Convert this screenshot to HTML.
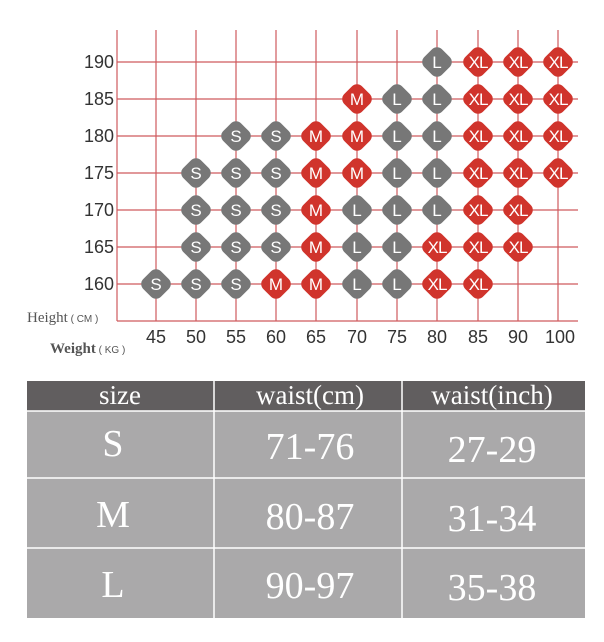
<!DOCTYPE html>
<html><head><meta charset="utf-8"><style>
html,body{margin:0;padding:0;background:#fff;width:604px;height:642px;overflow:hidden}
svg{display:block}
</style></head><body>
<svg width="604" height="642" viewBox="0 0 604 642" xmlns="http://www.w3.org/2000/svg">
<defs>
<rect id="dg" x="-12.5" y="-12.5" width="25" height="25" rx="7" fill="#777" transform="rotate(45)"/>
<rect id="dr" x="-12.5" y="-12.5" width="25" height="25" rx="7" fill="#d0342c" transform="rotate(45)"/>
</defs>
<g stroke="#cf5a5e" stroke-width="1.2">
<line x1="117" y1="30" x2="117" y2="321"/>
<line x1="117" y1="321" x2="578" y2="321"/>
<line x1="117" y1="62" x2="578" y2="62"/>
<line x1="117" y1="99" x2="578" y2="99"/>
<line x1="117" y1="136" x2="578" y2="136"/>
<line x1="117" y1="173" x2="578" y2="173"/>
<line x1="117" y1="210" x2="578" y2="210"/>
<line x1="117" y1="247" x2="578" y2="247"/>
<line x1="117" y1="284" x2="578" y2="284"/>
<line x1="156" y1="30" x2="156" y2="321"/>
<line x1="196" y1="30" x2="196" y2="321"/>
<line x1="236" y1="30" x2="236" y2="321"/>
<line x1="276" y1="30" x2="276" y2="321"/>
<line x1="316" y1="30" x2="316" y2="321"/>
<line x1="357" y1="30" x2="357" y2="321"/>
<line x1="397" y1="30" x2="397" y2="321"/>
<line x1="437" y1="30" x2="437" y2="321"/>
<line x1="478" y1="30" x2="478" y2="321"/>
<line x1="518" y1="30" x2="518" y2="321"/>
<line x1="558" y1="30" x2="558" y2="321"/>
</g>
<g font-family="Liberation Sans, sans-serif" font-size="18" fill="#333" text-anchor="end">
<text x="114" y="68">190</text><text x="114" y="105">185</text><text x="114" y="142">180</text>
<text x="114" y="179">175</text><text x="114" y="216">170</text><text x="114" y="253">165</text><text x="114" y="290">160</text>
</g>
<g font-family="Liberation Sans, sans-serif" font-size="18" fill="#333" text-anchor="middle">
<text x="156" y="343">45</text><text x="196" y="343">50</text><text x="236" y="343">55</text><text x="276" y="343">60</text>
<text x="316" y="343">65</text><text x="357" y="343">70</text><text x="397" y="343">75</text><text x="437" y="343">80</text>
<text x="478" y="343">85</text><text x="518" y="343">90</text><text x="560" y="343">100</text>
</g>
<text x="27" y="322" font-family="Liberation Serif, serif" font-size="15" fill="#555">Height<tspan font-family="Liberation Sans, sans-serif" font-size="10"> ( CM )</tspan></text>
<text x="50" y="353" font-family="Liberation Serif, serif" font-size="15" font-weight="bold" fill="#555">Weight<tspan font-family="Liberation Sans, sans-serif" font-size="10" font-weight="normal"> ( KG )</tspan></text>
<g font-family="Liberation Sans, sans-serif" font-size="17" fill="#fff" text-anchor="middle">
<g transform="translate(437,62)"><use href="#dg"/><text y="6">L</text></g>
<g transform="translate(478,62)"><use href="#dr"/><text y="6" letter-spacing="-1">XL</text></g>
<g transform="translate(518,62)"><use href="#dr"/><text y="6" letter-spacing="-1">XL</text></g>
<g transform="translate(558,62)"><use href="#dr"/><text y="6" letter-spacing="-1">XL</text></g>
<g transform="translate(357,99)"><use href="#dr"/><text y="6">M</text></g>
<g transform="translate(397,99)"><use href="#dg"/><text y="6">L</text></g>
<g transform="translate(437,99)"><use href="#dg"/><text y="6">L</text></g>
<g transform="translate(478,99)"><use href="#dr"/><text y="6" letter-spacing="-1">XL</text></g>
<g transform="translate(518,99)"><use href="#dr"/><text y="6" letter-spacing="-1">XL</text></g>
<g transform="translate(558,99)"><use href="#dr"/><text y="6" letter-spacing="-1">XL</text></g>
<g transform="translate(236,136)"><use href="#dg"/><text y="6">S</text></g>
<g transform="translate(276,136)"><use href="#dg"/><text y="6">S</text></g>
<g transform="translate(316,136)"><use href="#dr"/><text y="6">M</text></g>
<g transform="translate(357,136)"><use href="#dr"/><text y="6">M</text></g>
<g transform="translate(397,136)"><use href="#dg"/><text y="6">L</text></g>
<g transform="translate(437,136)"><use href="#dg"/><text y="6">L</text></g>
<g transform="translate(478,136)"><use href="#dr"/><text y="6" letter-spacing="-1">XL</text></g>
<g transform="translate(518,136)"><use href="#dr"/><text y="6" letter-spacing="-1">XL</text></g>
<g transform="translate(558,136)"><use href="#dr"/><text y="6" letter-spacing="-1">XL</text></g>
<g transform="translate(196,173)"><use href="#dg"/><text y="6">S</text></g>
<g transform="translate(236,173)"><use href="#dg"/><text y="6">S</text></g>
<g transform="translate(276,173)"><use href="#dg"/><text y="6">S</text></g>
<g transform="translate(316,173)"><use href="#dr"/><text y="6">M</text></g>
<g transform="translate(357,173)"><use href="#dr"/><text y="6">M</text></g>
<g transform="translate(397,173)"><use href="#dg"/><text y="6">L</text></g>
<g transform="translate(437,173)"><use href="#dg"/><text y="6">L</text></g>
<g transform="translate(478,173)"><use href="#dr"/><text y="6" letter-spacing="-1">XL</text></g>
<g transform="translate(518,173)"><use href="#dr"/><text y="6" letter-spacing="-1">XL</text></g>
<g transform="translate(558,173)"><use href="#dr"/><text y="6" letter-spacing="-1">XL</text></g>
<g transform="translate(196,210)"><use href="#dg"/><text y="6">S</text></g>
<g transform="translate(236,210)"><use href="#dg"/><text y="6">S</text></g>
<g transform="translate(276,210)"><use href="#dg"/><text y="6">S</text></g>
<g transform="translate(316,210)"><use href="#dr"/><text y="6">M</text></g>
<g transform="translate(357,210)"><use href="#dg"/><text y="6">L</text></g>
<g transform="translate(397,210)"><use href="#dg"/><text y="6">L</text></g>
<g transform="translate(437,210)"><use href="#dg"/><text y="6">L</text></g>
<g transform="translate(478,210)"><use href="#dr"/><text y="6" letter-spacing="-1">XL</text></g>
<g transform="translate(518,210)"><use href="#dr"/><text y="6" letter-spacing="-1">XL</text></g>
<g transform="translate(196,247)"><use href="#dg"/><text y="6">S</text></g>
<g transform="translate(236,247)"><use href="#dg"/><text y="6">S</text></g>
<g transform="translate(276,247)"><use href="#dg"/><text y="6">S</text></g>
<g transform="translate(316,247)"><use href="#dr"/><text y="6">M</text></g>
<g transform="translate(357,247)"><use href="#dg"/><text y="6">L</text></g>
<g transform="translate(397,247)"><use href="#dg"/><text y="6">L</text></g>
<g transform="translate(437,247)"><use href="#dr"/><text y="6" letter-spacing="-1">XL</text></g>
<g transform="translate(478,247)"><use href="#dr"/><text y="6" letter-spacing="-1">XL</text></g>
<g transform="translate(518,247)"><use href="#dr"/><text y="6" letter-spacing="-1">XL</text></g>
<g transform="translate(156,284)"><use href="#dg"/><text y="6">S</text></g>
<g transform="translate(196,284)"><use href="#dg"/><text y="6">S</text></g>
<g transform="translate(236,284)"><use href="#dg"/><text y="6">S</text></g>
<g transform="translate(276,284)"><use href="#dr"/><text y="6">M</text></g>
<g transform="translate(316,284)"><use href="#dr"/><text y="6">M</text></g>
<g transform="translate(357,284)"><use href="#dg"/><text y="6">L</text></g>
<g transform="translate(397,284)"><use href="#dg"/><text y="6">L</text></g>
<g transform="translate(437,284)"><use href="#dr"/><text y="6" letter-spacing="-1">XL</text></g>
<g transform="translate(478,284)"><use href="#dr"/><text y="6" letter-spacing="-1">XL</text></g>
</g>
<rect x="27" y="381" width="558" height="30" fill="#615e5f"/>
<rect x="27" y="411" width="558" height="207" fill="#aaa9aa"/>
<g stroke="#fff" stroke-width="1.5">
<line x1="27" y1="411" x2="585" y2="411"/>
<line x1="27" y1="478" x2="585" y2="478"/>
<line x1="27" y1="548" x2="585" y2="548"/>
<line x1="214" y1="381" x2="214" y2="618"/>
<line x1="402" y1="381" x2="402" y2="618"/>
</g>
<g font-family="Liberation Serif, serif" fill="#fff" text-anchor="middle">
<text x="120" y="404" font-size="27">size</text>
<text x="310" y="404" font-size="27">waist(cm)</text>
<text x="492" y="404" font-size="27">waist(inch)</text>
<g font-size="38">
<text x="113" y="456">S</text><text x="310" y="459">71-76</text><text x="492" y="462">27-29</text>
<text x="113" y="527">M</text><text x="310" y="529">80-87</text><text x="492" y="531">31-34</text>
<text x="113" y="597">L</text><text x="310" y="598">90-97</text><text x="492" y="600">35-38</text>
</g>
</g>
</svg>
</body></html>
